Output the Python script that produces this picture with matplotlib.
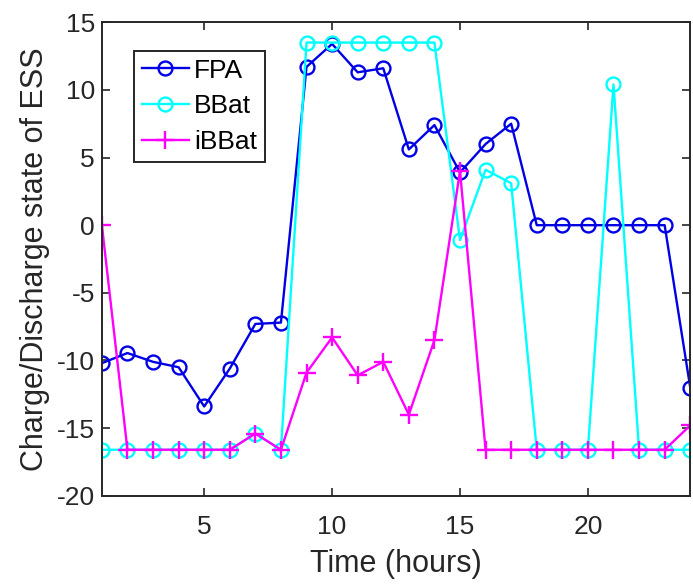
import matplotlib
matplotlib.use("Agg")
import matplotlib.pyplot as plt

plt.rcParams["font.family"] = ["Liberation Sans", "DejaVu Sans"]
plt.rcParams["axes.unicode_minus"] = False

hours = list(range(1, 25))
fpa = [-10.2, -9.45, -10.1, -10.5, -13.4, -10.6, -7.3, -7.2, 11.7, 13.4, 11.3, 11.6,
       5.6, 7.4, 3.9, 6.0, 7.5, 0, 0, 0, 0, 0, 0, -12.0]
bbat = [-16.6, -16.6, -16.6, -16.6, -16.6, -16.6, -15.4, -16.6, 13.5, 13.5, 13.5, 13.5,
        13.5, 13.5, -1.1, 4.1, 3.1, -16.6, -16.6, -16.6, 10.4, -16.6, -16.6, -16.6]
ibbat = [0, -16.6, -16.6, -16.6, -16.6, -16.6, -15.4, -16.6, -10.9, -8.3, -11.1, -10.1,
         -14.0, -8.5, 4.0, -16.6, -16.6, -16.6, -16.6, -16.6, -16.6, -16.6, -16.6, -14.8]

fig = plt.figure(figsize=(6.93, 5.86), dpi=100)
ax = fig.add_axes([0.147, 0.154, 0.849, 0.808])

ax.plot(hours, fpa, color="#0000e6", marker="o", mfc="none", ms=10, mew=1.7, lw=1.7, label="FPA")
ax.plot(hours, bbat, color="#00ffff", marker="o", mfc="none", ms=10, mew=1.7, lw=1.7, label="BBat")
ax.plot(hours, ibbat, color="#ff00ff", marker="+", ms=13, mew=1.7, lw=1.7, label="iBBat")

ax.set_xlim(1, 24)
ax.set_ylim(-20, 15)
ax.set_xticks([5, 10, 15, 20])
ax.set_yticks(range(-20, 16, 5))
ax.tick_params(direction="in", top=True, right=True, labelsize=19, length=6, width=1.2,
               color="#262626", labelcolor="#262626", pad=5)
ax.tick_params(axis="x", pad=14)
for s in ax.spines.values():
    s.set_color("#262626")
    s.set_linewidth(1.4)

ax.set_xlabel("Time (hours)", fontsize=22, color="#262626", labelpad=7)
ax.set_ylabel("Charge/Discharge state of ESS", fontsize=22, color="#262626", labelpad=5)

leg = ax.legend(loc="upper left", bbox_to_anchor=(0.054, 0.94), fontsize=19, fancybox=False,
                edgecolor="#262626", framealpha=1, borderpad=0.3, labelspacing=0.45,
                handlelength=1.8, handletextpad=0.2, borderaxespad=0)
leg.get_frame().set_linewidth(1.4)

fig.savefig("out.png", dpi=100)
